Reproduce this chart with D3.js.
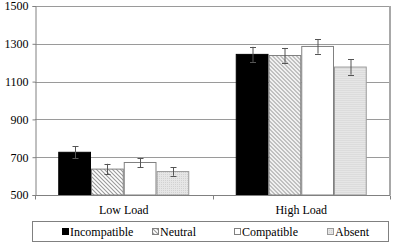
<!DOCTYPE html>
<html>
<head>
    <meta charset="utf-8" />
    <title>Load x Condition</title>
    <script src="https://cdn.jsdelivr.net/npm/d3@7"></script>
    <style>
        body { margin: 0; background: #fff; }
        svg text { font-family: "Liberation Serif", "Times New Roman", Times, "DejaVu Serif", serif !important; }
    </style>
</head>
<body>
<script>
    const categories = ["Low Load", "High Load"];
    const seriesNames = ["Incompatible", "Neutral", "Compatible", "Absent"];
    const values = {
        "Low Load":  [726, 637, 672, 624],
        "High Load": [1244, 1238, 1286, 1177]
    };
    const errors = {
        "Low Load":  [32, 28, 24, 22],
        "High Load": [40, 40, 38, 40]
    };
    const yTicks = [500, 700, 900, 1100, 1300, 1500];

    const width = 397, height = 244;
    const margin = { top: 6, left: 35, right: 7, bottom: 49 };

    const svg = d3.select("body").append("svg")
        .attr("width", width)
        .attr("height", height)
        .attr("font-size", 12);

    const defs = svg.append("defs");
    const hatch = defs.append("pattern")
        .attr("id", "hatch")
        .attr("patternUnits", "userSpaceOnUse")
        .attr("width", 4).attr("height", 4);
    hatch.append("rect").attr("width", 4).attr("height", 4).attr("fill", "#fff");
    hatch.append("path")
        .attr("d", "M-1,-1 L5,5 M-1,3 L1,5 M3,-1 L5,1")
        .attr("stroke", "#9a9a9a").attr("stroke-width", 1.1);

    const dots = defs.append("pattern")
        .attr("id", "dots")
        .attr("patternUnits", "userSpaceOnUse")
        .attr("width", 2).attr("height", 2);
    dots.append("rect").attr("width", 2).attr("height", 2).attr("fill", "#e6e6e6");
    dots.append("rect").attr("width", 1).attr("height", 1).attr("fill", "#d2d2d2");

    const fills = ["#000", "url(#hatch)", "#fff", "url(#dots)"];
    const strokes = ["#000", "#808080", "#808080", "#9a9a9a"];

    const x0 = d3.scaleBand()
        .domain(categories)
        .range([margin.left, width - margin.right]);
    const x1 = d3.scaleBand()
        .domain(seriesNames)
        .range([0, x0.bandwidth()])
        .paddingOuter(0.71)
        .paddingInner(0);
    const y = d3.scaleLinear()
        .domain([500, 1500])
        .range([height - margin.bottom, margin.top]);

    // grid
    svg.append("g")
        .selectAll("line")
        .data(yTicks.filter(d => d > 500))
        .join("line")
        .attr("x1", margin.left).attr("x2", width - margin.right)
        .attr("y1", d => Math.round(y(d)) + 0.5).attr("y2", d => Math.round(y(d)) + 0.5)
        .attr("stroke", "#9a9a9a").attr("stroke-width", 1);

    // right border
    svg.append("line")
        .attr("x1", width - margin.right).attr("x2", width - margin.right)
        .attr("y1", y(1500)).attr("y2", y(500))
        .attr("stroke", "#a8a8a8").attr("stroke-width", 2);

    // bars
    const groups = svg.append("g")
        .selectAll("g")
        .data(categories)
        .join("g")
        .attr("transform", d => `translate(${x0(d)},0)`);

    const rows = c => seriesNames.map((s, i) => ({ s, i, v: values[c][i], e: errors[c][i] }));

    groups.selectAll("rect")
        .data(rows)
        .join("rect")
        .attr("x", d => x1(d.s) + 0.5)
        .attr("y", d => y(d.v))
        .attr("width", x1.bandwidth() - 1)
        .attr("height", d => y(500) - y(d.v))
        .attr("fill", d => fills[d.i])
        .attr("stroke", d => strokes[d.i])
        .attr("stroke-width", 1);

    // error bars
    const eb = groups.selectAll("g.err")
        .data(rows)
        .join("g")
        .attr("class", "err")
        .attr("stroke", "#555")
        .attr("stroke-width", 1);
    eb.each(function (d) {
        const g = d3.select(this);
        const cx = Math.round(x1(d.s) + x1.bandwidth() / 2) + 0.5;
        g.append("line")
            .attr("x1", cx).attr("x2", cx)
            .attr("y1", y(d.v - d.e)).attr("y2", y(d.v + d.e));
        [d.v - d.e, d.v + d.e].forEach(v => {
            g.append("line")
                .attr("x1", cx - 3).attr("x2", cx + 3)
                .attr("y1", Math.round(y(v)) + 0.5).attr("y2", Math.round(y(v)) + 0.5);
        });
    });

    // y axis
    const yAxis = d3.axisLeft(y).tickValues(yTicks).tickFormat(d3.format("d")).tickSize(3).tickPadding(4);
    const ya = svg.append("g")
        .attr("transform", `translate(${margin.left + 0.5},0)`)
        .call(yAxis)
        .attr("font-family", null)
        .attr("font-size", 12);
    ya.select(".domain").attr("stroke", "#808080");
    ya.selectAll(".tick line").attr("stroke", "#808080");
    ya.selectAll("text").attr("fill", "#000");

    // x axis
    const xa = svg.append("g")
        .attr("transform", `translate(0,${y(500) + 0.5})`);
    xa.append("line")
        .attr("x1", margin.left).attr("x2", width - margin.right)
        .attr("stroke", "#808080");
    xa.selectAll("line.tk")
        .data([x0.range()[0], x0(categories[1]), x0.range()[1]])
        .join("line")
        .attr("class", "tk")
        .attr("x1", d => Math.round(d) + 0.5).attr("x2", d => Math.round(d) + 0.5)
        .attr("y1", 0).attr("y2", 4)
        .attr("stroke", "#808080");
    xa.selectAll("text")
        .data(categories)
        .join("text")
        .attr("x", d => x0(d) + x0.bandwidth() / 2)
        .attr("y", 18)
        .attr("text-anchor", "middle")
        .attr("fill", "#000")
        .text(d => d);

    // legend
    const legend = svg.append("g");
    legend.append("rect")
        .attr("x", 32.5).attr("y", 221.5)
        .attr("width", 356).attr("height", 20)
        .attr("fill", "#fff").attr("stroke", "#808080");
    const legendX = [62, 152, 234, 327];
    const li = legend.selectAll("g.item")
        .data(seriesNames)
        .join("g")
        .attr("class", "item")
        .attr("transform", (d, i) => `translate(${legendX[i]},0)`);
    li.append("rect")
        .attr("x", 0.5).attr("y", 228.5)
        .attr("width", 6).attr("height", 6)
        .attr("fill", (d, i) => fills[i])
        .attr("stroke", (d, i) => strokes[i]);
    li.append("text")
        .attr("x", 8)
        .attr("y", 235.5)
        .attr("fill", "#000")
        .text(d => d);
</script>
</body>
</html>
